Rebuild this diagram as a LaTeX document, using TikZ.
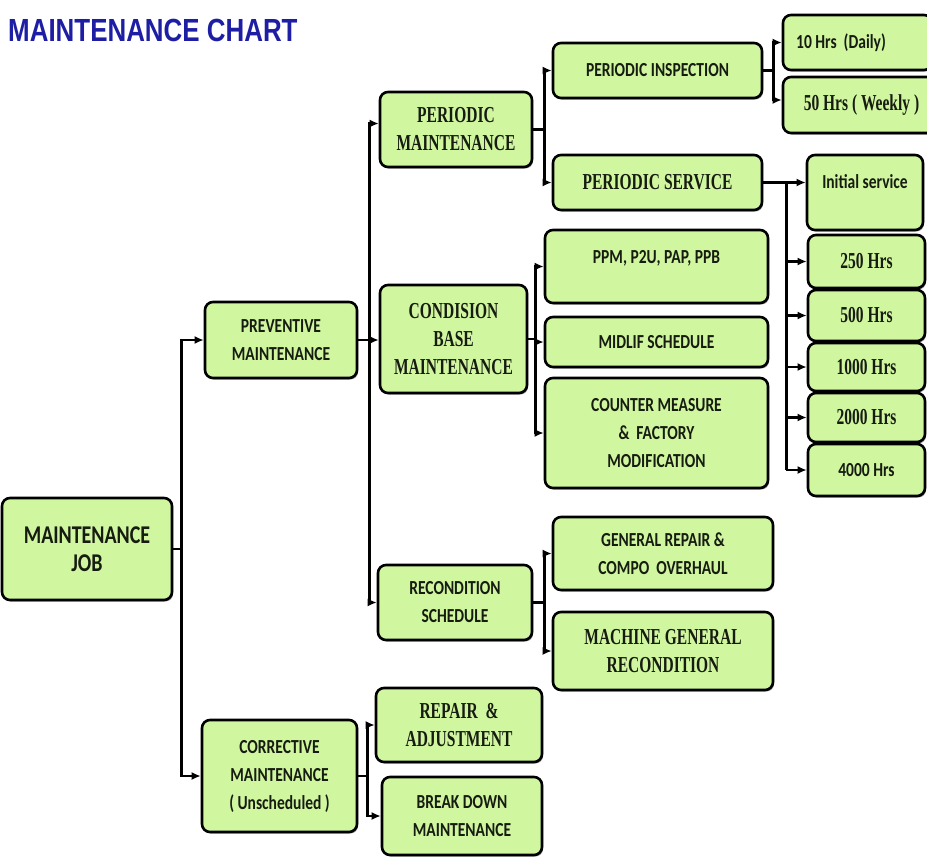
\documentclass[tikz,border=0pt]{standalone}
\usepackage{fontspec}
\usetikzlibrary{arrows.meta,shadows,calc}
\newfontfamily\sansC[FakeStretch=0.78]{Carlito}
\newfontfamily\serifC[FakeStretch=0.68]{Liberation Serif}
\newfontfamily\titleF[FakeStretch=0.81]{Liberation Sans}
\definecolor{boxgreen}{RGB}{208,246,160}
\definecolor{titleblue}{RGB}{30,30,165}
\definecolor{ink}{RGB}{22,28,16}
\tikzset{
  box/.style={draw=black, line width=2.6pt, rounded corners=8pt, fill=boxgreen,
    align=center, inner sep=0pt, text=ink,
    drop shadow={shadow xshift=1.2pt, shadow yshift=-1.6pt, fill=black, opacity=0.35}},
  sf/.style={font=\sansC\bfseries\fontsize{19.9}{28}\selectfont},
  mjf/.style={font=\sansC\bfseries\fontsize{25.6}{28}\selectfont},
  rm/.style={font=\serifC\bfseries\fontsize{22.8}{28}\selectfont},
  conn/.style={line width=2.4pt, draw=black},
  arr/.style={conn, -{Latex[length=9pt,width=8pt]}},
  sz/.style 2 args={minimum width=#1, minimum height=#2},
}
\begin{document}
\begin{tikzpicture}[x=1pt,y=-1pt]
\fill[white] (0,0) rectangle (927,860);
\useasboundingbox (0,0) rectangle (927,860);

\node[anchor=base west, font=\titleF\bfseries\fontsize{32}{36}\selectfont, text=titleblue, inner sep=0pt] (T) at (8,41) {MAINTENANCE CHART};

\node[box,mjf,sz={170pt}{102pt}] (MJ) at (87,549) {MAINTENANCE\\JOB};
\node[box,sf,sz={152pt}{76pt}] (PREV) at (281,340) {PREVENTIVE\\MAINTENANCE};
\node[box,sf,sz={155pt}{112pt}] (CORR) at (279.5,776) {CORRECTIVE\\MAINTENANCE\\(\,Unscheduled\,)};
\node[box,rm,sz={152pt}{75pt}] (PERM) at (456,129.5) {PERIODIC\\MAINTENANCE};
\node[box,rm,sz={147pt}{108pt}] (CBM) at (453.5,339) {CONDISION\\BASE\\MAINTENANCE};
\node[box,sf,sz={154pt}{75pt}] (RS) at (455,602.5) {RECONDITION\\SCHEDULE};
\node[box,rm,sz={166pt}{74pt}] (RA) at (459,725) {REPAIR\ \ \&\\ADJUSTMENT};
\node[box,sf,sz={160pt}{78pt}] (BD) at (462,816) {BREAK DOWN\\MAINTENANCE};
\node[box,sf,sz={209pt}{55pt}] (PI) at (657.5,70.5) {PERIODIC INSPECTION};
\node[box,rm,sz={209pt}{55pt}] (PS) at (657.5,182.5) {PERIODIC SERVICE};
\node[box,sf,sz={149pt}{55pt}] (H10) at (857.5,42.5) {10 Hrs\ \ (Daily)\hspace*{33pt}};
\node[box,rm,sz={157pt}{56pt}] (H50) at (861.5,105) {50 Hrs ( Weekly )};
\node[box,sf,text height=23pt,text depth=32pt,inner ysep=10pt,minimum width=116pt] (IS) at (865,192.5) {Initial service};
\node[box,rm,sz={117pt}{53pt}] (H250) at (866.5,261.5) {250 Hrs};
\node[box,rm,sz={117pt}{51pt}] (H500) at (866.5,315.5) {500 Hrs};
\node[box,rm,sz={117pt}{48pt}] (H1000) at (866.5,367) {1000 Hrs};
\node[box,rm,sz={117pt}{49pt}] (H2000) at (866.5,417.5) {2000 Hrs};
\node[box,sf,sz={117pt}{52pt}] (H4000) at (866.5,470) {4000 Hrs};
\node[box,sf,text height=25pt,text depth=32pt,inner ysep=8pt,minimum width=223pt] (PPM) at (656.5,266.5) {PPM, P2U, PAP, PPB};
\node[box,sf,sz={223pt}{50pt}] (MID) at (656.5,342) {MIDLIF SCHEDULE};
\node[box,sf,sz={223pt}{110pt}] (CM) at (656.5,433) {COUNTER MEASURE\\\&\ \ FACTORY\\MODIFICATION};
\node[box,sf,sz={220pt}{73pt}] (GR) at (663,553.5) {GENERAL REPAIR \&\\COMPO\ \ OVERHAUL};
\node[box,rm,sz={220pt}{78pt}] (MG) at (663,651) {MACHINE GENERAL\\RECONDITION};

% connectors
\draw[conn] (MJ.east) -- ++(8,0) coordinate (b1);
\draw[arr] (b1) |- (PREV.west);
\draw[arr] (b1) |- (CORR.west);

\draw[conn] (PREV.east) -- ++(11,0) coordinate (b2);
\draw[arr] (b2) |- ([yshift=6pt]PERM.west);
\draw[arr] (b2) -- (CBM.west |- b2);
\draw[arr] (b2) |- (RS.west);

\draw[conn] (CORR.east) -- ++(9,0) coordinate (b3);
\draw[arr] (b3) |- (RA.west);
\draw[arr] (b3) |- (BD.west);

\draw[conn] (PERM.east) -- ++(11,0) coordinate (b4);
\draw[arr] (b4) |- (PI.west);
\draw[arr] (b4) |- (PS.west);

\draw[conn] (PI.east) -- ++(10,0) coordinate (b5);
\draw[arr] (b5) |- (H10.west);
\draw[arr] (b5) |- ([yshift=5pt]H50.west);

\draw[arr] (PS.east) -- (IS.west |- PS.east);
\coordinate (b6) at ($(PS.east)+(23,0)$);
\draw[conn] (b6) -- (b6 |- H4000.west);
\foreach \n in {H250,H500,H1000,H2000,H4000}
  \draw[arr] (b6 |- \n.west) -- (\n.west);

\draw[conn] (CBM.east) -- ++(7,0) coordinate (b7);
\draw[arr] (b7) |- (PPM.west);
\draw[arr] (b7) |- (MID.west);
\draw[arr] (b7) |- (CM.west);

\draw[conn] (RS.east) -- ++(11,0) coordinate (b8);
\draw[arr] (b8) |- (GR.west);
\draw[arr] (b8) |- (MG.west);
\end{tikzpicture}
\end{document}
